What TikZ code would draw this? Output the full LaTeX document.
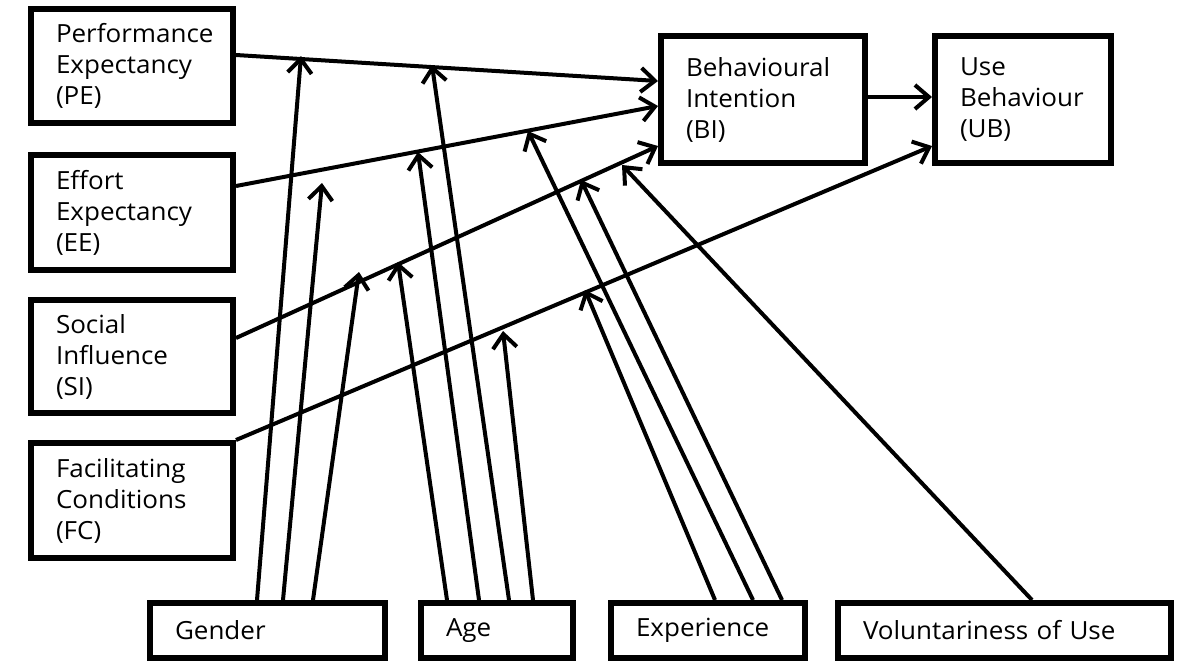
\documentclass[tikz,border=0pt]{standalone}
\usepackage{fontspec}
\setmainfont[FakeStretch=1.04]{Open Sans}
\usetikzlibrary{arrows.meta}
\begin{document}
\begin{tikzpicture}[x=1pt,y=-1pt,
  box/.style n args={2}{draw, rectangle, line width=6pt, anchor=north west,
    inner xsep=0pt, inner ysep=0pt,
    minimum width=#1pt, minimum height=#2pt,
    text width=\the\numexpr#1-50\relax pt, align=left,
    font=\fontsize{25}{31}\selectfont},
  conn/.style={line width=4pt, -{Straight Barb[length=14pt,width=24pt]}}]
\useasboundingbox (0,0) rectangle (1204,662);

% constructs
\node[box={202}{114}] (pe) at (28,6)   {Performance\\Expectancy\\(PE)};
\node[box={202}{115}] (ee) at (28,152) {Effort\\Expectancy\\(EE)};
\node[box={202}{113}] (si) at (28,297) {Social\\Influence\\(SI)};
\node[box={202}{115}] (fc) at (28,440) {Facilitating\\Conditions\\(FC)};
\node[box={204}{127}] (bi) at (658,33) {Behavioural\\Intention\\(BI)};
\node[box={176}{127}] (ub) at (932,33) {Use\\Behaviour\\(UB)};

% moderators
\node[box={235}{55}] (gender) at (147,600) {Gender};
\node[box={152}{55}] (age)    at (418,600) {Age};
\node[box={194}{55}] (exp)    at (608,600) {Experience};
\node[box={333}{55}] (vol)    at (835,600) {Voluntariness of Use};

% main paths
\draw[conn] ([yshift=11pt]pe.east) -- ([yshift=18.5pt]bi.west);
\draw[conn] ([yshift=26.5pt]ee.east) -- ([yshift=-6.5pt]bi.west);
\draw[conn] ([yshift=18.5pt]si.east) -- ([yshift=-46.5pt]bi.west);
\draw[conn] (fc.north east) -- ([yshift=-46.5pt]ub.west);
\draw[conn] ([yshift=2.5pt]bi.east) -- ([yshift=2.5pt]ub.west);

% points where the moderating arrows meet the paths
\coordinate (g1) at (301,56);
\coordinate (g2) at (322,183);
\coordinate (g3) at (359,272);
\coordinate (a1) at (432,65);
\coordinate (a2) at (418,152);
\coordinate (a3) at (398,262);
\coordinate (a4) at (503,331);
\coordinate (e1) at (585,290);
\coordinate (e2) at (528,131);
\coordinate (e3) at (581,180);
\coordinate (v1) at (622,165);

% moderating effects
\draw[conn] ([xshift=110pt]gender.north west) -- (g1);
\draw[conn] ([xshift=136pt]gender.north west) -- (g2);
\draw[conn] ([xshift=166pt]gender.north west) -- (g3);
\draw[conn] ([xshift=91pt]age.north west) -- (a1);
\draw[conn] ([xshift=61pt]age.north west) -- (a2);
\draw[conn] ([xshift=29pt]age.north west) -- (a3);
\draw[conn] ([xshift=115pt]age.north west) -- (a4);
\draw[conn] ([xshift=107pt]exp.north west) -- (e1);
\draw[conn] ([xshift=145pt]exp.north west) -- (e2);
\draw[conn] ([xshift=174pt]exp.north west) -- (e3);
\draw[conn] ([xshift=197pt]vol.north west) -- (v1);
\end{tikzpicture}
\end{document}
